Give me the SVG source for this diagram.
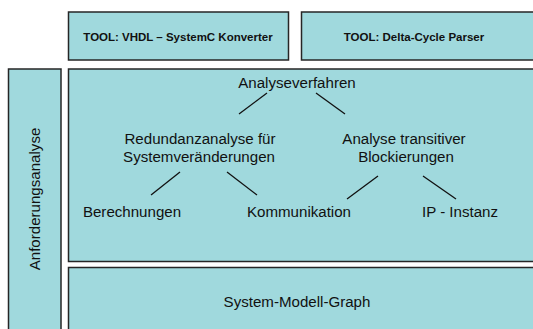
<svg xmlns="http://www.w3.org/2000/svg" width="533" height="329" viewBox="0 0 533 329">
  <style>
    .box { fill: #a0d9dd; stroke: #262626; stroke-width: 1.5; }
    .lbl { font-family: "Liberation Sans", Arial, sans-serif; font-size: 15.1px; fill: #111; text-anchor: middle; }
    .tool { font-family: "Liberation Sans", Arial, sans-serif; font-size: 11.5px; font-weight: bold; fill: #111; text-anchor: middle; }
    .edge { stroke: #111; stroke-width: 1.3; fill: none; }
  </style>
  <rect x="0" y="0" width="533" height="329" fill="#ffffff"/>

  <g id="tool-vhdl">
    <rect class="box" x="68.5" y="12" width="220" height="48"/>
    <text class="tool" x="178" y="41">TOOL: VHDL – SystemC Konverter</text>
  </g>
  <g id="tool-delta">
    <rect class="box" x="301.5" y="12" width="240" height="48"/>
    <text class="tool" x="414" y="41">TOOL: Delta-Cycle Parser</text>
  </g>
  <g id="anforderungsanalyse">
    <rect class="box" x="8.5" y="69" width="52.5" height="270"/>
    <text class="lbl" transform="translate(40 199) rotate(-90)" x="0" y="0">Anforderungsanalyse</text>
  </g>
  <g id="analyse-bereich">
    <rect class="box" x="68.5" y="69" width="470" height="192.5"/>
  </g>
  <g id="system-modell-graph">
    <rect class="box" x="68.5" y="267.5" width="470" height="70"/>
    <text class="lbl" x="297" y="307">System-Modell-Graph</text>
  </g>

  <g id="analyseverfahren">
    <text class="lbl" x="297" y="88">Analyseverfahren</text>
  </g>
  <g id="redundanzanalyse">
    <text class="lbl" x="200" y="144">Redundanzanalyse für</text>
    <text class="lbl" x="199" y="162">Systemveränderungen</text>
  </g>
  <g id="transitive-blockierungen">
    <text class="lbl" x="404" y="144">Analyse transitiver</text>
    <text class="lbl" x="406" y="162">Blockierungen</text>
  </g>
  <g id="berechnungen">
    <text class="lbl" x="132" y="217">Berechnungen</text>
  </g>
  <g id="kommunikation">
    <text class="lbl" x="299" y="217">Kommunikation</text>
  </g>
  <g id="ip-instanz">
    <text class="lbl" x="460" y="217">IP - Instanz</text>
  </g>

  <g id="connectors">
    <line class="edge" x1="267" y1="93" x2="239" y2="114"/>
    <line class="edge" x1="316" y1="93" x2="345" y2="114"/>
    <line class="edge" x1="180" y1="172" x2="151" y2="195"/>
    <line class="edge" x1="227" y1="172" x2="257" y2="195"/>
    <line class="edge" x1="378" y1="176" x2="347" y2="199"/>
    <line class="edge" x1="423" y1="176" x2="456" y2="199"/>
  </g>
</svg>
